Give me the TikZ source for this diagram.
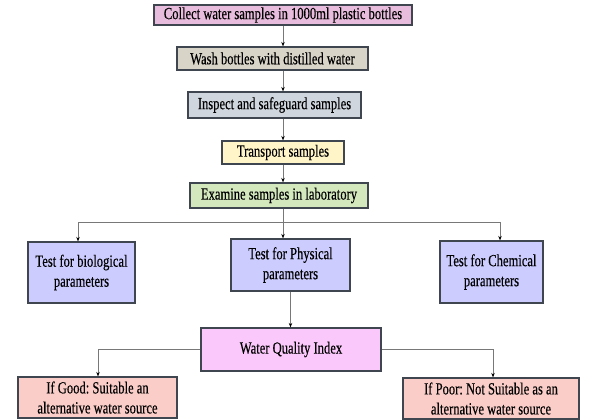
\documentclass[tikz,border=0pt]{standalone}
\usepackage{fontspec}
\setmainfont[FakeStretch=0.74,FakeBold=0.3]{Liberation Serif}
\usetikzlibrary{arrows.meta}
\definecolor{boxline}{RGB}{64,70,80}
\definecolor{linegray}{RGB}{120,120,120}
\definecolor{cpink}{RGB}{232,188,220}
\definecolor{cbeige}{RGB}{217,212,200}
\definecolor{cgrayblue}{RGB}{208,214,222}
\definecolor{cyellow}{RGB}{255,245,200}
\definecolor{cgreen}{RGB}{212,232,190}
\definecolor{clav}{RGB}{204,204,255}
\definecolor{cmag}{RGB}{250,200,250}
\definecolor{csalmon}{RGB}{250,205,200}
\frenchspacing
\begin{document}
\begin{tikzpicture}[x=1pt,y=-1pt,
  box/.style={draw=boxline, line width=1.2pt, inner sep=0pt, align=center,
    font=\fontsize{17}{20}\selectfont},
  conn/.style={draw=linegray, line width=0.8pt, -{Stealth[length=4.5pt,width=3.5pt,black]}},
  plainline/.style={draw=linegray, line width=0.8pt}]
\useasboundingbox (0,0) rectangle (600,420);
\fill[white] (0,0) rectangle (600,420);

\node[box, fill=cpink, minimum width=258pt, minimum height=20pt] (c1) at (283,15) {Collect water samples in 1000ml plastic bottles};
\node[box, fill=cbeige, minimum width=191pt, minimum height=23pt] (c2) at (272.5,58.5) {Wash bottles with distilled water};
\node[box, fill=cgrayblue, minimum width=173pt, minimum height=26pt] (c3) at (274.5,105) {Inspect and safeguard samples};
\node[box, fill=cyellow, minimum width=122pt, minimum height=23pt] (c4) at (283,152.5) {Transport samples};
\node[box, fill=cgreen, minimum width=178pt, minimum height=25pt] (c5) at (279,195.5) {Examine samples in laboratory};

\node[box, fill=clav, minimum width=107pt, minimum height=61pt] (bio) at (81.5,272.5) {Test for biological\\parameters};
\node[box, fill=clav, minimum width=119pt, minimum height=52pt] (phys) at (290.5,265) {Test for Physical\\parameters};
\node[box, fill=clav, minimum width=103pt, minimum height=62pt] (chem) at (491.5,272) {Test for Chemical\\parameters};

\node[box, fill=cmag, minimum width=180pt, minimum height=43pt] (wqi) at (291,349.5) {Water Quality Index};
\node[box, fill=csalmon, minimum width=159pt, minimum height=41pt] (good) at (97.5,397.5) {If Good: Suitable an\\alternative water source};
\node[box, fill=csalmon, minimum width=176pt, minimum height=41pt] (poor) at (491,398.5) {If Poor: Not Suitable as an\\alternative water source};

% vertical chain
\draw[conn] (c1.south) -- (c1.south |- c2.north);
\draw[conn] (c1.south |- c2.south) -- (c1.south |- c3.north);
\draw[conn] (c1.south |- c3.south) -- (c1.south |- c4.north);
\draw[conn] (c1.south |- c4.south) -- (c1.south |- c5.north);

% branch to tests
\coordinate (bj) at (283,222);
\coordinate (bioin) at (78,222);
\coordinate (chemin) at (500,222);
\draw[plainline] (c1.south |- c5.south) -- (bj);
\draw[conn] (bj) -- (bj |- phys.north);
\draw[conn] (bj) -| (bioin |- bio.north);
\draw[conn] (bj) -| (chemin |- chem.north);

% physical to WQI
\draw[conn] (phys.south) -- (phys.south |- wqi.north);

% WQI to outcomes
\coordinate (goodin) at (98,350);
\coordinate (poorin) at (493,350);
\draw[conn] (wqi.west) -| (goodin |- good.north);
\draw[conn] (wqi.east) -| (poorin |- poor.north);
\end{tikzpicture}
\end{document}
